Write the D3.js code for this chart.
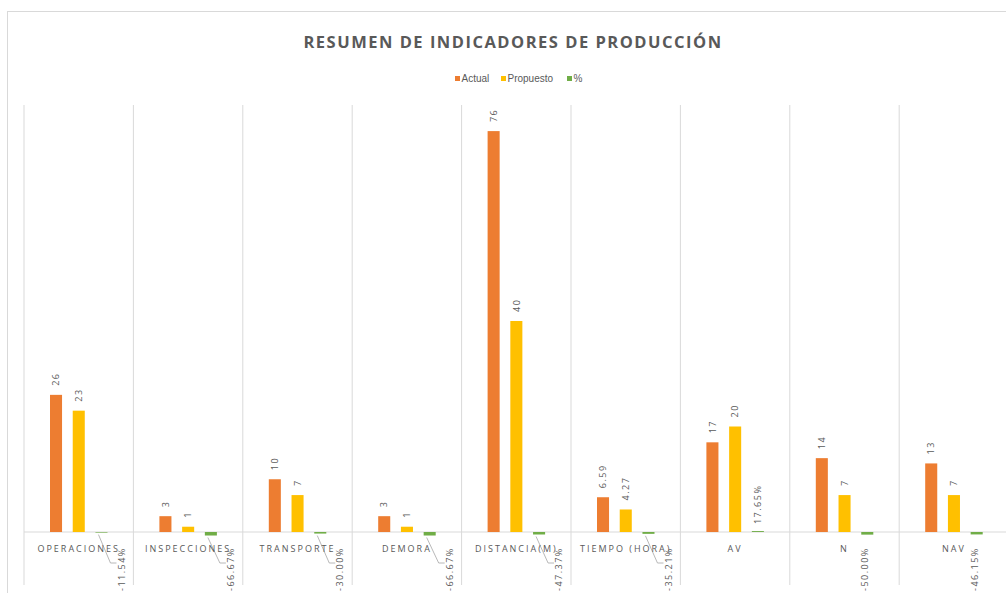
<!DOCTYPE html>
<html><head><meta charset="utf-8">
<script src="https://cdn.jsdelivr.net/npm/d3@7/dist/d3.min.js"></script>
<style>body{margin:0;background:#fff;} svg{display:block;}</style>
</head><body><svg id="c" width="1006" height="593"></svg>
<script>
const categories = ["OPERACIONES","INSPECCIONES","TRANSPORTE","DEMORA","DISTANCIA(M)","TIEMPO (HORA)","AV","N","NAV"];
const actual = [26, 3, 10, 3, 76, 6.59, 17, 14, 13];
const propuesto = [23, 1, 7, 1, 40, 4.27, 20, 7, 7];
const pct = [-0.1154, -0.6667, -0.30, -0.6667, -0.4737, -0.3521, 0.1765, -0.50, -0.4615];
const pctLabels = ["-11.54%","-66.67%","-30.00%","-66.67%","-47.37%","-35.21%","17.65%","-50.00%","-46.15%"];
const actualLabels = ["26","3","10","3","76","6.59","17","14","13"];
const propLabels = ["23","1","7","1","40","4.27","20","7","7"];
const seriesNames = ["Actual","Propuesto","%"];
const colors = ["#ED7D31","#FFC000","#70AD47"];

const svg = d3.select("#c");
const textCol = "#595959";
const gridCol = "#d9d9d9";

// chart border
svg.append("rect").attr("x",7.5).attr("y",11.5).attr("width",1010).attr("height",600)
  .attr("fill","none").attr("stroke","#d9d9d9");

svg.append("text").attr("x",513).attr("y",48).attr("text-anchor","middle")
  .attr("font-family","Open Sans, sans-serif").attr("font-weight","bold").attr("font-size",16.5)
  .attr("letter-spacing","1.5px").attr("fill",textCol).text("RESUMEN DE INDICADORES DE PRODUCCIÓN");

// legend
const legX = [455, 501, 567];
seriesNames.forEach((s,i)=>{
  svg.append("rect").attr("x",legX[i]).attr("y",76).attr("width",5).attr("height",5).attr("fill",colors[i]);
  svg.append("text").attr("x",legX[i]+6.5).attr("y",82).attr("font-family","Liberation Sans Narrow, Liberation Sans, sans-serif")
    .attr("font-size",10).attr("fill",textCol).text(s);
});

const x = d3.scaleBand().domain(categories).range([24, 24 + 9*109.4]);
const xi = d3.scaleBand().domain(seriesNames).range([26, 83.5]).paddingInner(0.47).paddingOuter(0);
const y = d3.scaleLinear().domain([0, 80]).range([532, 110]);

// vertical gridlines
const bounds = categories.map(c=>x(c)).concat([x.range()[1]]);
svg.append("g").selectAll("line").data(bounds).join("line")
  .attr("x1",d=>d).attr("x2",d=>d).attr("y1",105).attr("y2",585)
  .attr("stroke",gridCol).attr("stroke-width",1);

// baseline
svg.append("line").attr("x1",24).attr("x2",1006).attr("y1",y(0)).attr("y2",y(0)).attr("stroke",gridCol);

const series = [actual, propuesto, pct];
series.forEach((vals,si)=>{
  svg.append("g").selectAll("rect").data(vals).join("rect")
    .attr("x",(d,i)=>x(categories[i])+xi(seriesNames[si]))
    .attr("width",xi.bandwidth())
    .attr("y",d=>y(Math.max(0,d)))
    .attr("height",d=>Math.max(0.01,Math.abs(y(d)-y(0))))
    .attr("fill",colors[si]);
});

function vlabel(px, py, txt, anchor){
  svg.append("text").attr("transform",`translate(${px},${py}) rotate(-90)`)
    .attr("text-anchor",anchor).attr("dy","0.35em")
    .attr("font-family","Open Sans, sans-serif").attr("font-size",9).attr("letter-spacing","1.5px")
    .attr("fill",textCol).text(txt);
}
[actualLabels, propLabels].forEach((labs,si)=>{
  const vals = series[si];
  labs.forEach((t,i)=>{
    const cx = x(categories[i])+xi(seriesNames[si])+xi.bandwidth()/2;
    vlabel(cx, y(vals[i])-9, t, "start");
  });
});

// percent labels
pctLabels.forEach((t,i)=>{
  const bx = x(categories[i])+xi("%")+xi.bandwidth()/2;
  if (pct[i] >= 0){
    vlabel(bx, y(pct[i])-7, t, "start");
  } else {
    const collides = categories[i].length > 3;
    const lx = collides ? bx + 20 : bx - 2;
    vlabel(lx, 591, t, "start");
    if (collides){
      svg.append("path")
        .attr("d",`M${bx-3},${y(pct[i])+2} L${lx-11},${563} L${lx-5},${563}`)
        .attr("fill","none").attr("stroke","#a6a6a6").attr("stroke-width",0.8);
    }
  }
});

// category labels
svg.append("g").selectAll("text").data(categories).join("text")
  .attr("x",d=>x(d)+x.bandwidth()/2).attr("y",552).attr("text-anchor","middle")
  .attr("font-family","Open Sans, sans-serif").attr("font-size",9).attr("letter-spacing","2px")
  .attr("fill",textCol).text(d=>d);
</script></body></html>
